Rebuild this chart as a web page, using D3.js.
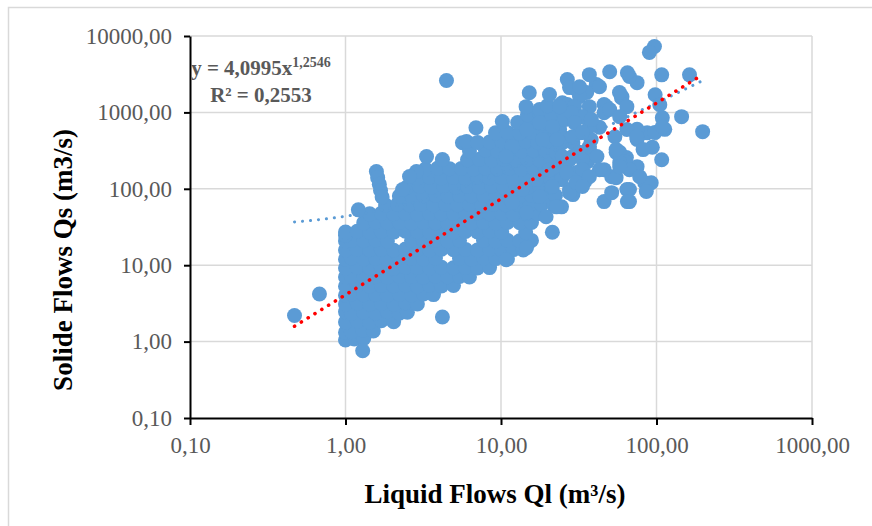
<!DOCTYPE html>
<html>
<head>
<meta charset="utf-8">
<script src="https://cdn.jsdelivr.net/npm/d3@7"></script>
<style>
  body { margin: 0; background: #fff; }
  svg { display: block; font-family: "Liberation Serif", "Times New Roman", serif; }
</style>
</head>
<body>
<div id="chart"></div>
<script>
// tick values and titles
const xTickValues = [0.1, 1, 10, 100, 1000];
const yTickValues = [0.1, 1, 10, 100, 1000, 10000];
const xTitle = "Liquid Flows Ql (m³/s)";
const yTitle = "Solide Flows Qs (m3/s)";

// trend lines shown on the chart
const powerA = 4.0995, powerB = 1.2546, powerR2 = 0.2553;
const linearSlope = 13.0, linearIntercept = 30.7;

// [Ql, Qs] pairs
const isolatedFlows = [
  [0.47, 2.2], [0.68, 4.2], [1.29, 0.76], [4.2, 2.1], [4.46, 2610], [1.21, 53],
  [1.58, 168], [1.61, 140], [1.65, 115], [1.68, 95], [1.72, 78],
  [21.4, 27], [97, 7300], [90, 6100], [163, 3100], [108, 3100], [198, 560], [145, 880]
];

const lowFlows = [
  [1.00, 1.05], [1.14, 1.08], [1.31, 1.10],
  [1.00, 1.32], [1.09, 1.35], [1.29, 1.42], [1.51, 1.38],
  [1.00, 1.80], [1.19, 1.86], [1.43, 1.79], [1.70, 1.88], [2.04, 1.82],
  [1.00, 2.45], [1.09, 2.35], [1.31, 2.42], [1.56, 2.38], [1.86, 2.46], [2.22, 2.36], [2.50, 2.42],
  [1.00, 3.10], [1.19, 3.20], [1.43, 3.08], [1.70, 3.18], [2.04, 3.12], [2.43, 3.22], [2.90, 3.10],
  [1.00, 4.05], [1.09, 4.20], [1.31, 4.10], [1.56, 4.15], [1.86, 4.05], [2.22, 4.18], [2.66, 4.08], [3.17, 4.20], [3.68, 4.12],
  [1.00, 5.30], [1.19, 5.50], [1.43, 5.35], [1.70, 5.45], [2.04, 5.38], [2.43, 5.52], [2.90, 5.33], [3.47, 5.47], [4.14, 5.36], [4.95, 5.44]
];

const midFlows = [
  [1.00, 7.0], [1.09, 7.2], [1.31, 7.05], [1.56, 7.15], [1.86, 6.95], [2.22, 7.2], [2.66, 7.1], [3.17, 6.98], [3.79, 7.18], [4.53, 7.05], [5.41, 7.12], [6.27, 7.0],
  [1.00, 9.2], [1.19, 9.4], [1.43, 9.25], [1.70, 9.35], [2.04, 9.1], [2.43, 9.45], [2.90, 9.3], [3.47, 9.2], [4.14, 9.4], [4.95, 9.28], [5.91, 9.35], [7.06, 9.22], [8.44, 9.3],
  [1.00, 12.0], [1.09, 12.4], [1.31, 12.1], [1.56, 12.3], [1.86, 12.0], [2.22, 12.5], [2.66, 12.2], [3.17, 12.1], [3.79, 12.4], [5.41, 12.3], [6.46, 12.0], [7.72, 12.4], [9.22, 12.2], [11.0, 12.1],
  [1.00, 15.8], [1.19, 16.2], [1.43, 15.9], [1.70, 16.1], [2.04, 15.7], [2.43, 16.3], [2.90, 16.0], [3.47, 15.8], [4.14, 16.2], [4.95, 15.9], [5.91, 16.1], [7.06, 15.8], [8.44, 16.2], [10.1, 15.9], [12.0, 16.0], [13.9, 15.8],
  [1.00, 20.8], [1.09, 21.3], [1.31, 20.9], [1.56, 21.2], [1.86, 20.7], [2.66, 21.1], [3.17, 20.9], [3.79, 21.2], [4.53, 20.8], [5.41, 21.1], [7.72, 21.0], [9.22, 20.8], [11.0, 21.2], [13.2, 20.9], [15.7, 21.1],
  [1.00, 24.5], [1.00, 27.2], [1.19, 27.8], [1.43, 27.3], [1.70, 27.6], [2.04, 27.1], [2.43, 27.9], [2.90, 27.4], [3.47, 27.2], [4.14, 27.7], [4.95, 27.3], [5.91, 27.6], [7.06, 27.2], [8.44, 27.8], [10.1, 27.3], [14.4, 27.2],
  [14.6, 17], [10.8, 11.8]
];

const upperFlows = [
  [1.31, 35.8], [1.56, 36.5], [1.86, 35.9], [2.22, 36.3], [2.66, 35.7], [3.17, 36.4], [3.79, 36.0], [4.53, 35.8], [5.41, 36.4], [6.46, 35.9], [7.72, 36.2], [9.22, 35.7], [11.0, 36.3], [13.2, 35.9], [15.7, 36.2],
  [1.43, 47.0], [1.70, 47.8], [2.04, 47.2], [2.43, 47.6], [2.90, 46.9], [3.47, 47.7], [4.14, 47.1], [4.95, 47.5], [5.91, 47.0], [7.06, 47.8], [8.44, 47.3], [10.1, 47.6], [12.0, 47.0], [14.4, 47.5], [17.2, 47.2],
  [1.81, 61.5], [2.16, 62.5], [2.58, 61.8], [3.04, 62.4], [3.68, 61.6], [4.40, 62.6], [5.25, 61.9], [6.27, 62.3], [7.49, 61.7], [8.95, 62.5], [10.7, 61.8], [12.8, 62.4], [15.3, 61.9], [18.2, 62.2], [21.8, 61.6],
  [2.22, 80.5], [2.66, 82.0], [3.17, 81.0], [3.79, 82.3], [4.53, 80.8], [5.41, 81.9], [6.46, 81.2], [7.72, 82.1], [9.22, 80.9], [11.0, 81.8], [13.2, 81.3], [15.7, 82.0], [18.8, 80.7], [22.4, 81.6],
  [2.50, 106], [2.99, 108], [3.57, 105], [4.27, 108], [5.10, 106], [6.09, 107], [7.27, 105], [8.69, 108], [10.4, 106], [12.4, 107], [14.8, 105], [17.7, 108], [21.1, 106],
  [2.90, 138], [3.47, 142], [4.14, 139], [4.95, 141], [5.91, 138], [7.06, 142], [8.44, 139], [10.1, 141], [12.0, 138], [14.4, 142], [17.2, 139], [20.5, 141],
  [3.27, 182], [3.91, 186], [4.67, 183], [5.57, 185], [6.66, 181], [7.95, 186], [9.49, 183], [11.3, 185], [13.5, 182], [16.2, 186], [19.3, 183], [23.1, 184],
  [3.32, 264], [4.20, 241], [6.09, 240], [7.27, 243], [8.69, 239], [10.4, 244], [12.4, 240], [14.8, 242], [17.7, 238], [21.1, 243],
  [2.86, 168], [2.58, 145], [2.33, 98], [5.65, 400]
];

const highFlows = [
  [6.27, 312], [7.95, 320], [9.49, 314], [11.3, 318], [13.5, 313], [16.2, 319], [19.3, 315], [23.1, 317],
  [6.0, 415], [7.06, 405], [8.44, 410], [10.1, 420], [12.0, 412], [14.4, 418], [17.2, 411], [20.5, 419],
  [6.9, 630], [9.22, 540], [11.0, 548], [13.2, 538], [15.7, 546], [18.8, 541], [22.4, 547],
  [10.2, 760], [12.8, 735], [15.3, 705], [18.2, 720], [21.8, 700],
  [14.8, 930], [17.7, 945], [21.1, 925], [25.2, 940],
  [14.5, 1190], [17.7, 1090], [19.9, 1220], [23.8, 1240],
  [15.2, 1810], [20.5, 1710], [26.7, 2690], [24.8, 1340], [30.5, 1990], [41, 2310], [47.5, 1190], [59.5, 1560]
];

const scatteredFlows = [
  [35.6, 1820], [32, 1610], [26.7, 1265], [43, 2170], [46, 1265], [46, 990], [50, 1090], [60, 1600],
  [64.5, 1190], [58, 880], [75, 2450], [67, 2950], [65, 3300], [50, 3400], [37, 3120], [98, 1700],
  [105, 1260], [109, 850], [113, 600], [108, 240], [94, 350], [87, 540], [75, 600], [55, 300],
  [64, 256], [75, 195], [46, 178], [51.5, 144], [84, 120], [92.5, 120], [86, 92], [67, 98],
  [67, 68], [46, 68], [51.5, 89], [34.5, 124], [29, 84], [36, 227], [37, 326], [54, 480],
  [24.5, 58], [43, 640], [37, 650], [32, 540], [29, 400], [38, 440], [64.5, 596], [75, 441],
  [82, 326], [58, 300], [62.5, 227], [67, 178], [78, 144], [55, 140], [58, 220], [97.6, 544],
  [32, 163], [26.2, 220], [24.5, 132], [27.6, 98], [28.8, 264], [24.8, 400], [23.8, 596], [25.6, 805],
  [29.7, 1190], [32, 880], [37, 1190], [24.8, 480], [22.7, 300], [27.6, 241], [30.5, 163], [33.4, 241],
  [27.6, 89], [22.7, 58], [19.5, 43], [35.6, 140], [64.5, 98], [65, 68], [55, 326],
  [57.8, 1820], [27.6, 2110], [32, 2170], [33.4, 880], [38.1, 805], [28.4, 990], [23.8, 1190], [29.7, 735],
  [21.4, 650], [17.7, 735], [14.6, 596], [11.8, 357], [10.8, 265], [18.5, 441], [22.9, 441], [28.8, 480],
  [33.4, 544], [24.8, 265], [32, 300], [37, 357], [41.4, 265], [33.4, 178], [26.4, 163], [20.5, 178],
  [21.4, 107], [30.5, 121], [16.9, 132], [17.7, 79], [13.7, 98], [11.8, 66], [14.6, 49], [58, 195],
  [74.6, 480], [109, 650], [43, 178], [37, 144], [33.4, 107]
];

const flows = [...lowFlows, ...midFlows, ...upperFlows, ...highFlows, ...scatteredFlows, ...isolatedFlows];

const width = 872, height = 526;
const blue = "#5b9bd5";

const x = d3.scaleLog().domain([0.1, 1000]).range([190, 812]);
const y = d3.scaleLog().domain([0.1, 10000]).range([418, 36]);

const comma = d3.formatLocale({ decimal: ",", thousands: "", grouping: [3], currency: ["", ""] });
const fmt = comma.format(".2f");
const dec = v => String(v).replace(".", ",");

const svg = d3.select("#chart")
  .append("svg")
  .attr("width", width)
  .attr("height", height);

// outer chart frame (runs off the picture on right and bottom)
svg.append("rect")
  .attr("x", 8.5).attr("y", 7.5)
  .attr("width", 900).attr("height", 560)
  .attr("fill", "none")
  .attr("stroke", "#d9d9d9")
  .attr("stroke-width", 1.5);

// grid
const grid = svg.append("g").attr("stroke", "#d9d9d9").attr("stroke-width", 1.5);
grid.selectAll(".vx")
  .data(xTickValues.slice(1))
  .join("line")
  .attr("x1", d => x(d)).attr("x2", d => x(d))
  .attr("y1", y(10000)).attr("y2", y(0.1));
grid.selectAll(".hy")
  .data(yTickValues.slice(1))
  .join("line")
  .attr("x1", x(0.1)).attr("x2", x(1000))
  .attr("y1", d => y(d)).attr("y2", d => y(d));

// points
svg.append("g")
  .attr("fill", blue)
  .selectAll("circle")
  .data(flows)
  .join("circle")
  .attr("cx", d => x(d[0]))
  .attr("cy", d => y(d[1]))
  .attr("r", 7.5);

// trend lines
const xMin = d3.min(flows, d => d[0]);
const xMax = d3.max(flows, d => d[0]);
const steps = d3.range(0, 201).map(i => xMin * Math.pow(xMax / xMin, i / 200));
const line = d3.line().x(d => x(d[0])).y(d => y(d[1]));

svg.append("path")
  .attr("d", line(steps.map(v => [v, linearSlope * v + linearIntercept])))
  .attr("fill", "none")
  .attr("stroke", blue)
  .attr("stroke-width", 3)
  .attr("stroke-linecap", "round")
  .attr("stroke-dasharray", "0.1 7.9");

svg.append("path")
  .attr("d", line(steps.map(v => [v, powerA * Math.pow(v, powerB)])))
  .attr("fill", "none")
  .attr("stroke", "#ff0000")
  .attr("stroke-width", 3.6)
  .attr("stroke-linecap", "round")
  .attr("stroke-dasharray", "0.1 7.9");

// axes
const styleAxis = g => {
  g.select(".domain").attr("stroke", "#000").attr("stroke-width", 2);
  g.selectAll(".tick line").attr("stroke", "#000").attr("stroke-width", 2);
  g.selectAll(".tick text")
    .attr("fill", "#595959")
    .attr("font-size", 23)
    .attr("font-family", "Liberation Serif, Times New Roman, serif");
};

svg.append("g")
  .attr("transform", `translate(0,${y(0.1)})`)
  .call(d3.axisBottom(x).tickValues(xTickValues).tickFormat(fmt).tickSize(7).tickSizeOuter(0).tickPadding(12))
  .call(styleAxis);

svg.append("g")
  .attr("transform", `translate(${x(0.1)},0)`)
  .call(d3.axisLeft(y).tickValues(yTickValues).tickFormat(fmt).tickSize(6).tickSizeOuter(0).tickPadding(12))
  .call(styleAxis);

// equation label
const eq = svg.append("g")
  .attr("fill", "#595959")
  .attr("font-weight", "bold")
  .attr("font-size", 21)
  .attr("text-anchor", "middle");
const eqLine = eq.append("text").attr("x", 261).attr("y", 75);
eqLine.append("tspan").text(`y = ${dec(powerA)}x`);
eqLine.append("tspan").attr("font-size", 14).attr("dy", -8).text(dec(powerB));
eq.append("text").attr("x", 261).attr("y", 102).text(`R² = ${dec(powerR2)}`);

// axis titles
svg.append("text")
  .attr("x", 495).attr("y", 503)
  .attr("text-anchor", "middle")
  .attr("font-weight", "bold")
  .attr("font-size", 27)
  .attr("fill", "#000")
  .text(xTitle);

svg.append("text")
  .attr("transform", "translate(72,260) rotate(-90)")
  .attr("text-anchor", "middle")
  .attr("font-weight", "bold")
  .attr("font-size", 27)
  .attr("fill", "#000")
  .text(yTitle);
</script>
</body>
</html>
